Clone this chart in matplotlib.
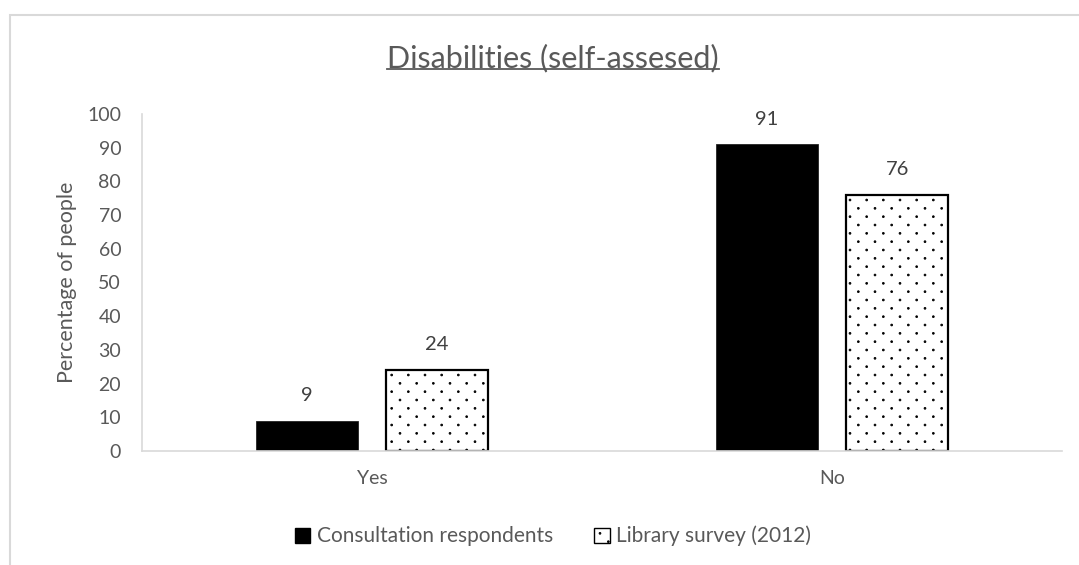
import matplotlib
matplotlib.use("Agg")
import matplotlib.pyplot as plt
import matplotlib.hatch as mhatch
from matplotlib.path import Path
from matplotlib.patches import Rectangle, Patch
from matplotlib.lines import Line2D
import numpy as np

categories = ["Yes", "No"]
series_names = ["Consultation respondents", "Library survey (2012)"]
consultation = [9, 91]
library_survey = [24, 76]
y_ticks = [0, 10, 20, 30, 40, 50, 60, 70, 80, 90, 100]


class DotGrid(mhatch.HatchPatternBase):
    """Staggered grid of small filled dots, two dot rows per column pitch."""
    radius = 0.009

    def __init__(self, hatch, density):
        self.cols = hatch.count('.') * density
        self.rows = 2 * self.cols
        circle = Path.unit_circle()
        self.shape_vertices = circle.vertices * self.radius
        self.shape_codes = circle.codes
        if self.cols == 0:
            self.num_vertices = 0
        else:
            n_shapes = (self.rows // 2 + 1) * (self.cols + 1) + (self.rows // 2) * self.cols
            self.num_vertices = n_shapes * len(self.shape_vertices)

    def set_vertices_and_codes(self, vertices, codes):
        step = 1.0 / self.cols
        vparts, cparts = [], []
        for r in range(self.rows + 1):
            if r % 2 == 0:
                xs = np.linspace(0, 1, self.cols + 1)
            else:
                xs = np.linspace(step / 2, 1 - step / 2, self.cols)
            yy = r / self.rows
            for xx in xs:
                vparts.append(self.shape_vertices + [xx, yy])
                cparts.append(self.shape_codes)
        np.concatenate(vparts, out=vertices)
        np.concatenate(cparts, out=codes)


mhatch._hatch_types = [DotGrid if t is mhatch.SmallFilledCircles else t
                       for t in mhatch._hatch_types]

plt.rcParams["font.family"] = ["Lato", "DejaVu Sans"]
plt.rcParams["hatch.linewidth"] = 0.6

TEXT = "#595959"
LABEL = "#404040"
GRID = "#d9d9d9"

fig = plt.figure(figsize=(10.79, 5.65), dpi=100)
ax = fig.add_axes([0.1316, 0.2018, 0.8527, 0.5965])

x = np.arange(len(categories))
w = 0.222
off = 0.1415
b1 = ax.bar(x - off, consultation, w, color="black", edgecolor="#222222", linewidth=0.6)
b2 = ax.bar(x + off, library_survey, w, color="white", edgecolor="black",
            linewidth=1.6, hatch=".")

for bars in (b1, b2):
    ax.bar_label(bars, labels=[f"{v:g}" for v in bars.datavalues], padding=12,
                 fontsize=14.5, color=LABEL)

ax.set_xlim(-0.5, 1.5)
ax.set_ylim(0, 100)
ax.set_yticks(y_ticks)
ax.set_xticks(x)
ax.set_xticklabels(categories)
ax.tick_params(axis="both", length=0, labelsize=14, labelcolor=TEXT)
ax.tick_params(axis="y", pad=15)
ax.tick_params(axis="x", pad=14)
for s in ("top", "right"):
    ax.spines[s].set_visible(False)
for s in ("left", "bottom"):
    ax.spines[s].set_color(GRID)
    ax.spines[s].set_linewidth(1.2)

ax.set_ylabel("Percentage of people", fontsize=15.5, color=TEXT, labelpad=7)

# Chart title with underline
title = fig.text(0.5125, 0.898, "Disabilities (self-assesed)", ha="center", va="center",
                 fontsize=22, color=TEXT)
fig.canvas.draw()
bb = title.get_window_extent().transformed(fig.transFigure.inverted())
fig.add_artist(Line2D([bb.x0, bb.x1], [bb.y0 + 0.006, bb.y0 + 0.006],
                      transform=fig.transFigure, color=TEXT, linewidth=1.3))

# Legend
handles = [Patch(facecolor="black", edgecolor="black", label=series_names[0]),
           Patch(facecolor="white", edgecolor="black", hatch=".", label=series_names[1])]
leg = fig.legend(handles=handles, loc="center", bbox_to_anchor=(0.5125, 0.051), ncol=2,
                 frameon=False, fontsize=15, handlelength=0.75, handleheight=0.75,
                 handletextpad=0.3, columnspacing=2.0)
for t in leg.get_texts():
    t.set_color(TEXT)

# Chart area border
fig.add_artist(Rectangle((10 / 1079, -0.1), 1.2, 1.1 - 14.5 / 565,
                         transform=fig.transFigure, fill=False, edgecolor=GRID,
                         linewidth=1.5, clip_on=False))

fig.savefig("out.png", dpi=100)
